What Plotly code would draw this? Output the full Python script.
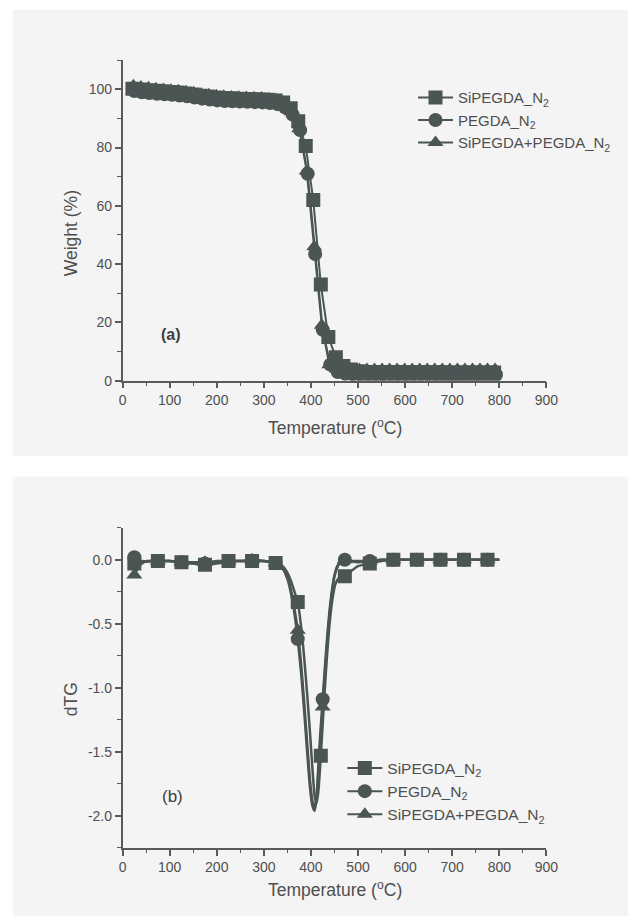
import plotly.graph_objects as go

# ---------------- (a) TGA data ----------------
sq_T = [21, 37, 53, 69, 85, 101, 117, 133, 149, 165, 181, 197, 213, 229, 245, 261, 277, 293, 309, 325,
        341, 357, 373, 389, 405, 421, 437, 453, 469, 485, 501, 517, 533, 549, 565, 581, 597, 613, 629,
        645, 661, 677, 693, 709, 725, 741, 757, 773, 789]
sq_W = [100.2, 99.9, 99.7, 99.5, 99.3, 99.1, 98.9, 98.6, 98.2, 97.8, 97.5, 97.2, 97.0, 96.9, 96.8, 96.7,
        96.6, 96.5, 96.4, 96.2, 95.5, 93.5, 89.0, 80.5, 62.0, 33.0, 15.0, 8.0, 5.0, 3.8, 3.2, 3.0, 3.0,
        3.0, 3.0, 3.0, 2.9, 2.9, 2.9, 2.9, 2.9, 2.9, 2.8, 2.8, 2.8, 2.8, 2.8, 2.8, 2.8]

ci_T = [25, 41, 57, 73, 89, 105, 121, 137, 153, 169, 185, 201, 217, 233, 249, 265, 281, 297, 313, 329,
        345, 361, 377, 393, 409, 425, 441, 457, 473, 489, 505, 521, 537, 553, 569, 585, 601, 617, 633,
        649, 665, 681, 697, 713, 729, 745, 761, 777, 793]
ci_W = [99.4, 99.0, 98.7, 98.5, 98.3, 98.1, 97.9, 97.6, 97.2, 96.8, 96.5, 96.2, 96.0, 95.9, 95.8, 95.7,
        95.6, 95.5, 95.3, 94.9, 93.8, 91.3, 86.0, 71.0, 43.5, 17.5, 5.5, 3.0, 2.4, 2.2, 2.1, 2.1, 2.1,
        2.1, 2.1, 2.1, 2.1, 2.1, 2.1, 2.1, 2.1, 2.0, 2.0, 2.0, 2.0, 2.0, 2.0, 2.0, 2.0]

tr_T = [23, 39, 55, 71, 87, 103, 119, 135, 151, 167, 183, 199, 215, 231, 247, 263, 279, 295, 311, 327,
        343, 359, 375, 391, 407, 423, 439, 455, 471, 487, 503, 519, 535, 551, 567, 583, 599, 615, 631,
        647, 663, 679, 695, 711, 727, 743, 759, 775, 791]
tr_W = [101.2, 100.8, 100.5, 100.2, 99.9, 99.7, 99.5, 99.2, 98.8, 98.4, 98.1, 97.8, 97.6, 97.4, 97.3,
        97.2, 97.1, 97.0, 96.8, 96.4, 95.6, 93.0, 86.5, 72.0, 46.0, 19.0, 5.5, 4.0, 3.8, 3.8, 3.8, 3.8,
        3.8, 3.8, 3.8, 3.8, 3.8, 3.8, 3.8, 3.8, 3.8, 3.8, 3.8, 3.8, 3.8, 3.8, 3.8, 3.8, 3.8]

# ---------------- (b) dTG data ----------------
sq_lT = [25, 40, 60, 80, 100, 125, 150, 175, 200, 225, 250, 275, 300, 320, 330, 340, 350, 358, 365, 372,
         380, 386, 392, 398, 403, 408, 412, 416, 421, 426, 431, 436, 441, 446, 452, 460, 472, 485, 500,
         525, 550, 575, 600, 650, 700, 750, 775, 800]
sq_lD = [-0.03, -0.02, -0.01, -0.01, -0.01, -0.02, -0.03, -0.04, -0.03, -0.01, -0.01, -0.01, -0.01,
         -0.02, -0.03, -0.05, -0.10, -0.17, -0.25, -0.33, -0.55, -0.78, -1.05, -1.35, -1.62, -1.85,
         -1.90, -1.80, -1.53, -1.22, -0.92, -0.66, -0.45, -0.30, -0.19, -0.14, -0.13, -0.09, -0.05,
         -0.03, -0.01, 0.0, 0.0, 0.0, 0.0, 0.0, 0.0, 0.0]
ci_lT = [25, 40, 60, 80, 100, 125, 150, 175, 200, 225, 250, 275, 300, 320, 330, 340, 350, 358, 365, 372,
         380, 386, 392, 398, 403, 408, 412, 416, 420, 425, 430, 435, 440, 445, 450, 456, 462, 472, 485,
         500, 525, 550, 575, 600, 650, 700, 750, 775, 800]
ci_lD = [0.02, -0.01, -0.01, -0.01, -0.01, -0.02, -0.03, -0.03, -0.02, -0.01, -0.01, -0.01, -0.01,
         -0.02, -0.03, -0.07, -0.15, -0.27, -0.42, -0.62, -0.92, -1.20, -1.50, -1.78, -1.92, -1.96,
         -1.85, -1.60, -1.35, -1.09, -0.82, -0.58, -0.38, -0.23, -0.12, -0.05, -0.02, 0.0, -0.01,
         -0.02, -0.01, 0.0, 0.0, 0.0, 0.0, 0.0, 0.0, 0.0, 0.0]
tr_lT = [25, 35, 45, 60, 80, 100, 125, 150, 175, 200, 225, 250, 275, 300, 320, 330, 340, 350, 358, 365,
         372, 380, 386, 392, 398, 403, 408, 412, 416, 420, 425, 430, 435, 440, 445, 450, 456, 462, 472,
         485, 500, 525, 550, 575, 600, 650, 700, 750, 775, 800]
tr_lD = [-0.12, -0.05, -0.02, -0.01, -0.01, -0.01, -0.02, -0.02, -0.02, -0.01, -0.01, -0.01, 0.0,
         -0.01, -0.02, -0.03, -0.06, -0.13, -0.24, -0.38, -0.55, -0.85, -1.13, -1.43, -1.72, -1.88,
         -1.94, -1.86, -1.65, -1.42, -1.15, -0.87, -0.62, -0.41, -0.25, -0.13, -0.06, -0.02, 0.0,
         -0.01, -0.01, -0.01, 0.0, 0.0, 0.0, 0.0, 0.0, 0.0, 0.0, 0.0]

sq_mT = [25, 75, 125, 175, 225, 275, 325, 372, 421, 472, 525, 575, 625, 675, 725, 775]
sq_mD = [-0.03, -0.01, -0.02, -0.04, -0.01, -0.01, -0.025, -0.33, -1.53, -0.13, -0.03, 0.0, 0.0, 0.0, 0.0, 0.0]
ci_mT = [25, 75, 125, 175, 225, 275, 325, 372, 425, 472, 525, 575, 625, 675, 725, 775]
ci_mD = [0.02, -0.01, -0.02, -0.03, -0.01, -0.01, -0.025, -0.62, -1.09, 0.0, -0.01, 0.0, 0.0, 0.0, 0.0, 0.0]
tr_mT = [25, 75, 125, 175, 225, 275, 325, 372, 425, 472, 525, 575, 625, 675, 725, 775]
tr_mD = [-0.12, -0.01, -0.02, -0.02, -0.01, 0.0, -0.025, -0.55, -1.15, 0.0, -0.01, 0.0, 0.0, 0.0, 0.0, 0.0]

# tick labels
x_ticks = [0, 100, 200, 300, 400, 500, 600, 700, 800, 900]
y1_ticks = [0, 20, 40, 60, 80, 100]
y2_ticks = [0.0, -0.5, -1.0, -1.5, -2.0]
y2_ticktext = ["0.0", "-0.5", "-1.0", "-1.5", "-2.0"]

names = ["SiPEGDA_N<sub>2</sub>", "PEGDA_N<sub>2</sub>", "SiPEGDA+PEGDA_N<sub>2</sub>"]
symbols = ["square", "circle", "triangle-up"]

C = "#4b5553"
TXT = "#4f4f4f"
FONT = "Liberation Sans, Arial, sans-serif"
MS = 14

fig = go.Figure()

# (a) traces
for T, W, nm, sym in [(sq_T, sq_W, names[0], symbols[0]),
                      (ci_T, ci_W, names[1], symbols[1]),
                      (tr_T, tr_W, names[2], symbols[2])]:
    fig.add_trace(go.Scatter(x=T, y=W, mode="lines+markers", name=nm,
                             line=dict(color=C, width=2),
                             marker=dict(symbol=sym, size=MS, color=C),
                             xaxis="x", yaxis="y", legend="legend"))

# (b) traces
for lT, lD, mT, mD, nm, sym in [(sq_lT, sq_lD, sq_mT, sq_mD, names[0], symbols[0]),
                                (ci_lT, ci_lD, ci_mT, ci_mD, names[1], symbols[1]),
                                (tr_lT, tr_lD, tr_mT, tr_mD, names[2], symbols[2])]:
    fig.add_trace(go.Scatter(x=lT, y=lD, mode="lines", showlegend=False,
                             line=dict(color=C, width=2.5, shape="spline", smoothing=0.6),
                             xaxis="x2", yaxis="y2"))
    fig.add_trace(go.Scatter(x=mT, y=mD, mode="markers", showlegend=False,
                             marker=dict(symbol=sym, size=MS, color=C),
                             xaxis="x2", yaxis="y2"))
    fig.add_trace(go.Scatter(x=[None], y=[None], mode="lines+markers", name=nm,
                             line=dict(color=C, width=2),
                             marker=dict(symbol=sym, size=MS, color=C),
                             xaxis="x2", yaxis="y2", legend="legend2"))

W_, H_ = 640, 924
def px(x):
    return x / W_
def py(y):
    return 1 - y / H_

axis_common = dict(showline=True, linecolor="#5a5a5a", linewidth=1.5, ticks="outside",
                   ticklen=6, tickwidth=1.5, tickcolor="#5a5a5a", showgrid=False, zeroline=False,
                   tickfont=dict(family=FONT, size=14, color=TXT),
                   minor=dict(ticks="outside", ticklen=3.5, tickwidth=1, tickcolor="#5a5a5a"))

def ann(text, x, y, size, angle=0, weight="normal", color=TXT):
    return dict(text=text, x=px(x), y=py(y), xref="paper", yref="paper", showarrow=False,
                xanchor="center", yanchor="middle", textangle=angle,
                font=dict(family=FONT, size=size, color=color, weight=weight))

fig.update_layout(
    width=W_, height=H_, margin=dict(l=0, r=0, t=0, b=0),
    paper_bgcolor="white", plot_bgcolor="rgba(0,0,0,0)",
    font=dict(family=FONT, color=TXT),
    xaxis=dict(domain=[px(121.6), px(556.3)], range=[0, 900], tickvals=x_ticks,
               anchor="y", **axis_common),
    yaxis=dict(domain=[py(384), py(60.7)], range=[0, 110], tickvals=y1_ticks,
               anchor="x", **axis_common),
    xaxis2=dict(domain=[px(121.6), px(556.3)], range=[0, 900], tickvals=x_ticks,
                anchor="y2", **axis_common),
    yaxis2=dict(domain=[py(855.3), py(532.3)], range=[-2.25, 0.25], tickvals=y2_ticks,
                ticktext=y2_ticktext, anchor="x2", **axis_common),
    legend=dict(x=px(419.5), y=py(82), xanchor="left", yanchor="top", itemwidth=35,
                bgcolor="rgba(0,0,0,0)", font=dict(family=FONT, size=15, color=TXT),
                tracegroupgap=0),
    legend2=dict(x=px(347), y=py(758), xanchor="left", yanchor="top", itemwidth=35,
                 bgcolor="rgba(0,0,0,0)", font=dict(family=FONT, size=15.5, color=TXT),
                 tracegroupgap=0),
    shapes=[
        dict(type="rect", xref="paper", yref="paper", x0=px(9), x1=1, y0=py(460), y1=py(10),
             fillcolor="#f4f4f4", line=dict(width=0), layer="below"),
        dict(type="rect", xref="paper", yref="paper", x0=px(9), x1=1, y0=0, y1=py(481),
             fillcolor="#f4f4f4", line=dict(width=0), layer="below"),
    ],
    annotations=[
        ann("Weight (%)", 69, 235, 17.5, angle=-90),
        ann("Temperature (<sup>o</sup>C)", 339, 431, 17.5),
        ann("(a)", 171, 337, 16, weight="bold", color="#3f3f3f"),
        ann("dTG", 69, 705, 17.5, angle=-90),
        ann("Temperature (<sup>o</sup>C)", 339, 897, 17.5),
        ann("(b)", 173, 803, 17, color="#3f3f3f"),
    ],
)

fig.update_xaxes(minor=dict(dtick=50))
fig.update_layout(yaxis=dict(minor=dict(dtick=10)), yaxis2=dict(minor=dict(dtick=0.25)))

fig.write_html("out.html")
